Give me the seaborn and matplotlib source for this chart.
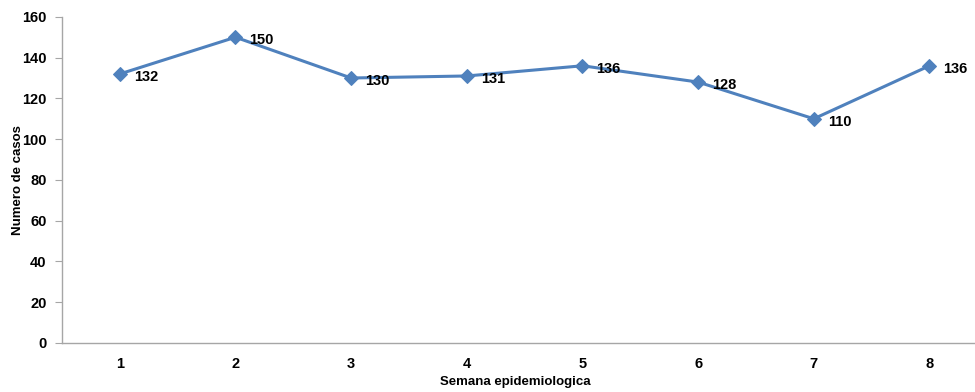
import seaborn as sns
import matplotlib.pyplot as plt
import pandas as pd

semanas = ['1', '2', '3', '4', '5', '6', '7', '8']
casos = [132, 150, 130, 131, 136, 128, 110, 136]

df = pd.DataFrame({'semana': semanas, 'casos': casos})

sns.set_style('ticks')
plt.rcParams['font.family'] = ['Liberation Sans Narrow', 'Liberation Sans', 'DejaVu Sans']
plt.rcParams['font.weight'] = 'bold'

fig = plt.figure(figsize=(9.75, 3.92), dpi=100)
ax = fig.add_axes([0.0636, 0.125, 0.949, 0.832])

sns.lineplot(data=df, x='semana', y='casos', ax=ax, color='#4F81BD', linewidth=2.2,
             marker='D', markersize=7, markeredgecolor='#4F81BD', sort=False)

for i, v in enumerate(casos):
    ax.annotate(str(v), (i, v), xytext=(10, -2), textcoords='offset points',
                ha='left', va='center', fontsize=10.5, fontweight='bold', color='black')

ax.set_xlim(-0.5, 7.5)
ax.set_ylim(0, 160)
ax.set_yticks(range(0, 161, 20))
ax.set_xlabel('Semana epidemiologica', fontsize=9.5, fontweight='bold', color='black')
ax.set_ylabel('Numero de casos', fontsize=9.5, fontweight='bold', color='black')
ax.xaxis.set_label_coords(0.49, -0.10)
ax.yaxis.set_label_coords(-0.041, 0.5)

sns.despine(ax=ax)
for s in ['left', 'bottom']:
    ax.spines[s].set_color('#A6A6A6')
    ax.spines[s].set_linewidth(1)
ax.tick_params(axis='y', length=5, color='#A6A6A6', labelsize=10.5, pad=6, labelcolor='black')
ax.tick_params(axis='x', length=0, labelsize=10.5, pad=10, labelcolor='black')
for lab in ax.get_xticklabels() + ax.get_yticklabels():
    lab.set_fontweight('bold')

plt.savefig('out.png', dpi=100)
plt.close()
